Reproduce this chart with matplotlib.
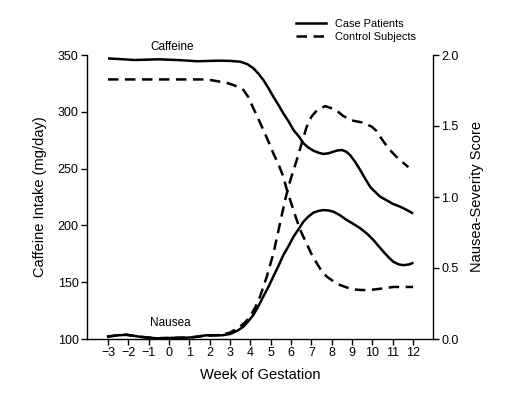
import matplotlib
matplotlib.use("Agg")
import matplotlib.pyplot as plt
from matplotlib.lines import Line2D

plt.rcParams['font.family'] = ['Liberation Sans', 'DejaVu Sans']

# Caffeine intake (mg/day) - case patients (solid)
caf_case_wk = [-3, -2.5, -1.7, -0.5, 0.5, 1.4, 2.0, 2.5, 3.0, 3.5, 3.85, 4.15, 4.4, 4.64, 4.9, 5.13, 5.4, 5.62, 5.9, 6.12, 6.4, 6.61, 6.85, 7.1, 7.35, 7.59, 7.85, 8.08, 8.3, 8.49, 8.7, 8.9, 9.15, 9.4, 9.65, 9.89, 10.05, 10.38, 10.71, 11.0, 11.36, 11.7, 12.0]
caf_case = [347, 346.5, 345.6, 346.2, 345.5, 344.5, 344.8, 345, 344.8, 344.1, 342, 338.3, 333.5, 328, 320.5, 313.3, 305.5, 298.7, 291, 284, 278, 272.3, 268.5, 265.8, 264, 262.9, 263.5, 264.9, 266, 266.4, 265, 262, 256, 248.8, 241, 234, 231, 225.3, 222, 219, 216.5, 213.5, 210.5]

# Caffeine intake - control subjects (dashed)
caf_ctrl_wk = [-3, -2, -1, 0, 1, 1.7, 2.1, 2.51, 2.85, 3.16, 3.45, 3.66, 3.9, 4.15, 4.4, 4.64, 4.9, 5.13, 5.4, 5.62, 5.8, 6.0, 6.28, 6.5, 6.77, 7.0, 7.27, 7.5, 7.76, 8.1, 8.41, 8.75, 9.07, 9.4, 9.72, 10.05, 10.38, 10.7, 11.03, 11.5, 12.0]
caf_ctrl = [328.5, 328.5, 328.5, 328.5, 328.5, 328.5, 327.8, 326.5, 325.4, 323.6, 321.5, 319.2, 313, 303, 293.5, 284, 273.5, 263.5, 253, 243, 231, 220, 204.8, 194, 184, 175, 166.6, 160, 154.9, 150.6, 147.5, 145.3, 143.7, 143.2, 143, 143.5, 144.2, 145, 145.8, 145.8, 145.8]

# Nausea-severity score - case patients (solid)
nau_case_wk = [-3.05, -2.6, -2.1, -1.44, -0.6, 0.2, 1.0, 1.4, 1.8, 2.2, 2.6, 3.0, 3.16, 3.4, 3.66, 3.9, 4.15, 4.4, 4.64, 4.9, 5.13, 5.4, 5.62, 5.9, 6.12, 6.4, 6.61, 6.85, 7.1, 7.35, 7.59, 7.85, 8.08, 8.4, 8.74, 9.07, 9.4, 9.75, 10.05, 10.3, 10.54, 10.8, 11.03, 11.3, 11.52, 11.8, 12.02]
nau_case = [0.016, 0.025, 0.03, 0.016, 0.005, 0.008, 0.01, 0.017, 0.026, 0.026, 0.026, 0.035, 0.045, 0.062, 0.087, 0.125, 0.17, 0.232, 0.30, 0.37, 0.44, 0.52, 0.59, 0.66, 0.72, 0.78, 0.826, 0.862, 0.89, 0.902, 0.908, 0.905, 0.897, 0.872, 0.838, 0.81, 0.78, 0.74, 0.697, 0.655, 0.615, 0.575, 0.544, 0.525, 0.52, 0.525, 0.537]

# Nausea-severity score - control subjects (dashed)
nau_ctrl_wk = [-3.05, -2.6, -2.1, -1.44, -0.6, 0.2, 1.0, 1.8, 2.51, 3.0, 3.49, 3.75, 3.98, 4.25, 4.48, 4.81, 5.13, 5.46, 5.71, 5.95, 6.28, 6.55, 6.77, 7.0, 7.27, 7.67, 8.17, 8.57, 9.07, 9.56, 9.97, 10.2, 10.38, 10.6, 10.87, 11.1, 11.36, 11.77]
nau_ctrl = [0.016, 0.025, 0.03, 0.016, 0.005, 0.008, 0.01, 0.022, 0.028, 0.045, 0.087, 0.118, 0.157, 0.225, 0.30, 0.44, 0.60, 0.815, 0.98, 1.11, 1.26, 1.39, 1.495, 1.565, 1.61, 1.64, 1.617, 1.57, 1.537, 1.523, 1.495, 1.465, 1.425, 1.38, 1.33, 1.295, 1.26, 1.21]

weeks = list(range(-3, 13))
week_labels = [str(w).replace('-', '\u2212') for w in weeks]
caf_ticks = [100, 150, 200, 250, 300, 350]
nau_ticks = [0.0, 0.5, 1.0, 1.5, 2.0]

fig = plt.figure(figsize=(5.22, 3.96), dpi=100)
ax = fig.add_axes([87/522, 57/396, (433-87)/522, (339-55)/396])
ax2 = ax.twinx()

lw = 1.8
dash = (0, (4.2, 2.6))
ax.plot(caf_case_wk, caf_case, color='black', lw=lw, solid_capstyle='butt', solid_joinstyle='round')
ax.plot(caf_ctrl_wk, caf_ctrl, color='black', lw=lw, linestyle=dash)
ax2.plot(nau_case_wk, nau_case, color='black', lw=lw, solid_capstyle='butt', solid_joinstyle='round')
ax2.plot(nau_ctrl_wk, nau_ctrl, color='black', lw=lw, linestyle=dash)

ax.set_xlim(-4.03, 12.98)
ax.set_ylim(100, 350)
ax2.set_ylim(0, 2.0)

for a in (ax, ax2):
    a.spines['top'].set_visible(False)
    for s in a.spines.values():
        s.set_linewidth(1.0)
ax.spines['right'].set_visible(False)
ax2.spines['left'].set_visible(False)
ax2.spines['bottom'].set_visible(False)

ax.set_xticks(weeks)
ax.set_xticklabels(week_labels)
ax.set_yticks(caf_ticks)
ax2.set_yticks(nau_ticks)
ax2.set_yticklabels(['%.1f' % v for v in nau_ticks])
ax.tick_params(axis='both', direction='out', length=4, width=1, labelsize=9, pad=2)
ax2.tick_params(axis='y', direction='out', length=4, width=1, labelsize=9, pad=2)

ax.set_xlabel('Week of Gestation', fontsize=10.5, labelpad=6)
ax.set_ylabel('Caffeine Intake (mg/day)', fontsize=10.5, labelpad=8)
ax2.set_ylabel('Nausea-Severity Score', fontsize=10.5, labelpad=8)

ax.text(0.15, 352, 'Caffeine', fontsize=8.5, ha='center', va='bottom')
ax2.text(0.05, 0.07, 'Nausea', fontsize=8.5, ha='center', va='bottom')

handles = [Line2D([0], [0], color='black', lw=lw),
           Line2D([0], [0], color='black', lw=lw, linestyle=dash)]
fig.legend(handles, ['Case Patients', 'Control Subjects'], loc='upper left',
           bbox_to_anchor=(288/522, 1 - 11/396), frameon=False, fontsize=7.9,
           handlelength=2.8, handletextpad=0.8, labelspacing=0.3, borderpad=0.2)

fig.savefig('out.png', dpi=100)
